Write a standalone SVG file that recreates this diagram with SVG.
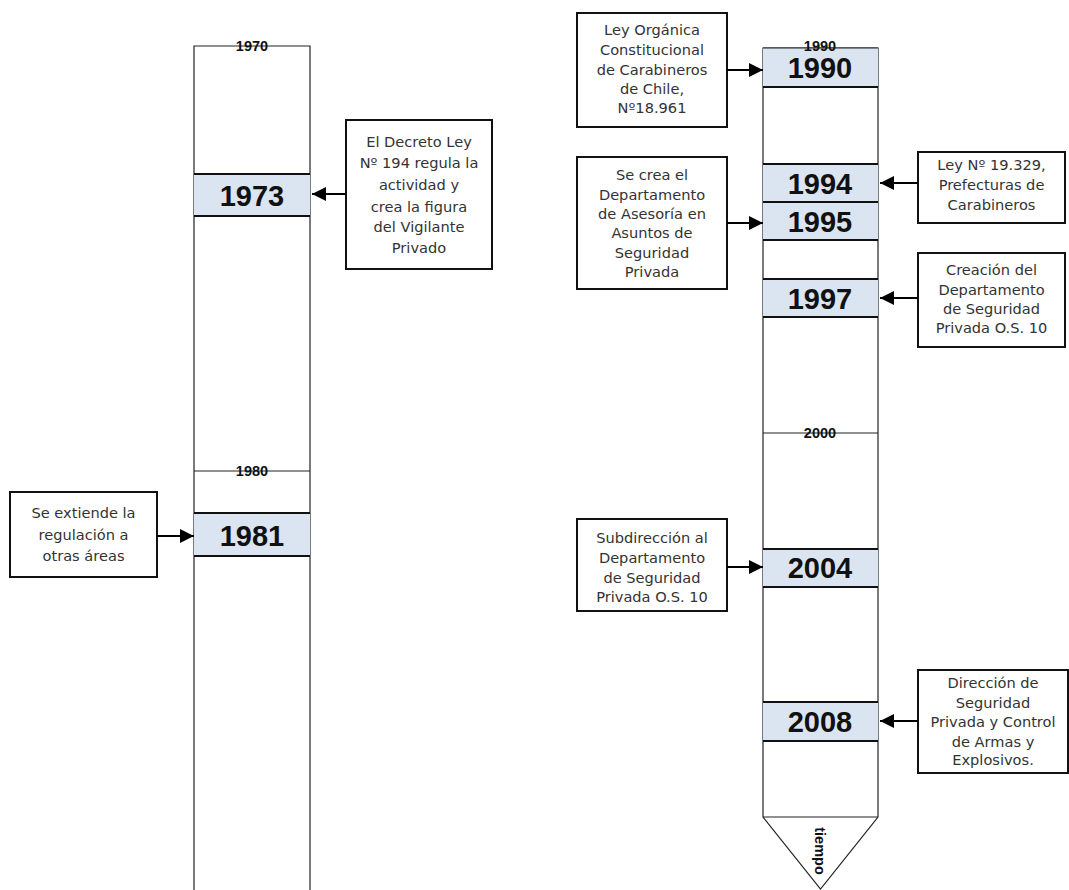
<svg xmlns="http://www.w3.org/2000/svg" width="1069" height="890" viewBox="0 0 1069 890">
<style>
.col{fill:#fff;stroke:#222;stroke-width:1.2}
.band{fill:#dbe5f1;stroke:none}
.bl{stroke:#111;stroke-width:2.2}
.tl{stroke:#222;stroke-width:1.2}
.yr{font-family:"Liberation Sans",Arial,sans-serif;font-weight:bold;font-size:29px;fill:#111;text-anchor:middle}
.sy{font-family:"Liberation Sans",Arial,sans-serif;font-weight:bold;font-size:14.5px;fill:#111;text-anchor:middle}
.box{fill:#fff;stroke:#111;stroke-width:2}
.bt{font-family:"DejaVu Sans","Liberation Sans",sans-serif;font-size:14.6px;fill:#333;text-anchor:middle}
.ar{stroke:#000;stroke-width:2.2;fill:none}
</style>
<defs>
<marker id="ah" markerUnits="userSpaceOnUse" markerWidth="16" markerHeight="14" refX="14" refY="7" orient="auto">
<path d="M0,0 L14,7 L0,14 Z" fill="#000"/>
</marker>
</defs>

<g id="timeline-left">
<path class="col" d="M194,892 V46 H310 V892"/>
<text class="sy" x="252" y="51">1970</text>
<rect class="band" x="194" y="174" width="116" height="42"/>
<line class="bl" x1="194" y1="174" x2="310" y2="174"/>
<line class="bl" x1="194" y1="216" x2="310" y2="216"/>
<text class="yr" x="252" y="206">1973</text>
<line class="tl" x1="194" y1="471" x2="310" y2="471"/>
<text class="sy" x="252" y="476">1980</text>
<rect class="band" x="194" y="513" width="116" height="43"/>
<line class="bl" x1="194" y1="513" x2="310" y2="513"/>
<line class="bl" x1="194" y1="556" x2="310" y2="556"/>
<text class="yr" x="252" y="546">1981</text>
</g>

<g id="timeline-right">
<path class="col" d="M763,817 V48 H878 V817 L820.5,889 Z"/>
<line class="tl" x1="763" y1="817" x2="878" y2="817"/>
<rect class="band" x="763" y="48" width="115" height="39"/>
<line class="tl" x1="763" y1="48" x2="878" y2="48"/>
<line class="bl" x1="763" y1="87" x2="878" y2="87"/>
<text class="sy" x="820" y="51">1990</text>
<text class="yr" x="820" y="78">1990</text>
<rect class="band" x="763" y="164" width="115" height="76"/>
<line class="bl" x1="763" y1="164" x2="878" y2="164"/>
<line class="bl" x1="763" y1="202" x2="878" y2="202"/>
<line class="bl" x1="763" y1="240" x2="878" y2="240"/>
<text class="yr" x="820" y="194">1994</text>
<text class="yr" x="820" y="232">1995</text>
<rect class="band" x="763" y="279" width="115" height="38"/>
<line class="bl" x1="763" y1="279" x2="878" y2="279"/>
<line class="bl" x1="763" y1="317" x2="878" y2="317"/>
<text class="yr" x="820" y="309">1997</text>
<line class="tl" x1="763" y1="433" x2="878" y2="433"/>
<text class="sy" x="820" y="438">2000</text>
<rect class="band" x="763" y="549" width="115" height="38"/>
<line class="bl" x1="763" y1="549" x2="878" y2="549"/>
<line class="bl" x1="763" y1="587" x2="878" y2="587"/>
<text class="yr" x="820" y="578">2004</text>
<rect class="band" x="763" y="702" width="115" height="39"/>
<line class="bl" x1="763" y1="702" x2="878" y2="702"/>
<line class="bl" x1="763" y1="741" x2="878" y2="741"/>
<text class="yr" x="820" y="732">2008</text>
<text class="sy" transform="translate(815,851) rotate(90)" x="0" y="0">tiempo</text>
</g>

<g id="box-1973">
<rect class="box" x="346" y="120" width="146" height="149"/>
<text class="bt" x="419" y="147">El Decreto Ley</text>
<text class="bt" x="419" y="168">Nº 194 regula la</text>
<text class="bt" x="419" y="190">actividad y</text>
<text class="bt" x="419" y="212">crea la figura</text>
<text class="bt" x="419" y="232">del Vigilante</text>
<text class="bt" x="419" y="253">Privado</text>
</g>

<g id="box-1981">
<rect class="box" x="10" y="492" width="147" height="85"/>
<text class="bt" x="83.5" y="518">Se extiende la</text>
<text class="bt" x="83.5" y="540">regulación a</text>
<text class="bt" x="83.5" y="561">otras áreas</text>
</g>

<g id="box-1990">
<rect class="box" x="577" y="13" width="150" height="114"/>
<text class="bt" x="652" y="35">Ley Orgánica</text>
<text class="bt" x="652" y="55">Constitucional</text>
<text class="bt" x="652" y="75">de Carabineros</text>
<text class="bt" x="652" y="94">de Chile,</text>
<text class="bt" x="652" y="113">Nº18.961</text>
</g>

<g id="box-1994">
<rect class="box" x="918" y="152" width="147" height="71"/>
<text class="bt" x="991.5" y="170">Ley Nº 19.329,</text>
<text class="bt" x="991.5" y="190">Prefecturas de</text>
<text class="bt" x="991.5" y="210">Carabineros</text>
</g>

<g id="box-1995">
<rect class="box" x="577" y="157" width="150" height="132"/>
<text class="bt" x="652" y="180">Se crea el</text>
<text class="bt" x="652" y="200">Departamento</text>
<text class="bt" x="652" y="219">de Asesoría en</text>
<text class="bt" x="652" y="238">Asuntos de</text>
<text class="bt" x="652" y="258">Seguridad</text>
<text class="bt" x="652" y="277">Privada</text>
</g>

<g id="box-1997">
<rect class="box" x="918" y="253" width="147" height="94"/>
<text class="bt" x="991.5" y="275">Creación del</text>
<text class="bt" x="991.5" y="295">Departamento</text>
<text class="bt" x="991.5" y="314">de Seguridad</text>
<text class="bt" x="991.5" y="333">Privada O.S. 10</text>
</g>

<g id="box-2004">
<rect class="box" x="577" y="519" width="150" height="92"/>
<text class="bt" x="652" y="543">Subdirección al</text>
<text class="bt" x="652" y="563">Departamento</text>
<text class="bt" x="652" y="583">de Seguridad</text>
<text class="bt" x="652" y="602">Privada O.S. 10</text>
</g>

<g id="box-2008">
<rect class="box" x="918" y="670" width="150" height="103"/>
<text class="bt" x="993" y="688">Dirección de</text>
<text class="bt" x="993" y="708">Seguridad</text>
<text class="bt" x="993" y="727">Privada y Control</text>
<text class="bt" x="993" y="747">de Armas y</text>
<text class="bt" x="993" y="765">Explosivos.</text>
</g>

<g id="connectors">
<line class="ar" x1="346" y1="194" x2="312" y2="194" marker-end="url(#ah)"/>
<line class="ar" x1="157" y1="536" x2="194" y2="536" marker-end="url(#ah)"/>
<line class="ar" x1="727" y1="70" x2="763" y2="70" marker-end="url(#ah)"/>
<line class="ar" x1="918" y1="183" x2="880" y2="183" marker-end="url(#ah)"/>
<line class="ar" x1="727" y1="223" x2="763" y2="223" marker-end="url(#ah)"/>
<line class="ar" x1="918" y1="298" x2="880" y2="298" marker-end="url(#ah)"/>
<line class="ar" x1="727" y1="567" x2="763" y2="567" marker-end="url(#ah)"/>
<line class="ar" x1="918" y1="721" x2="880" y2="721" marker-end="url(#ah)"/>
</g>
</svg>
